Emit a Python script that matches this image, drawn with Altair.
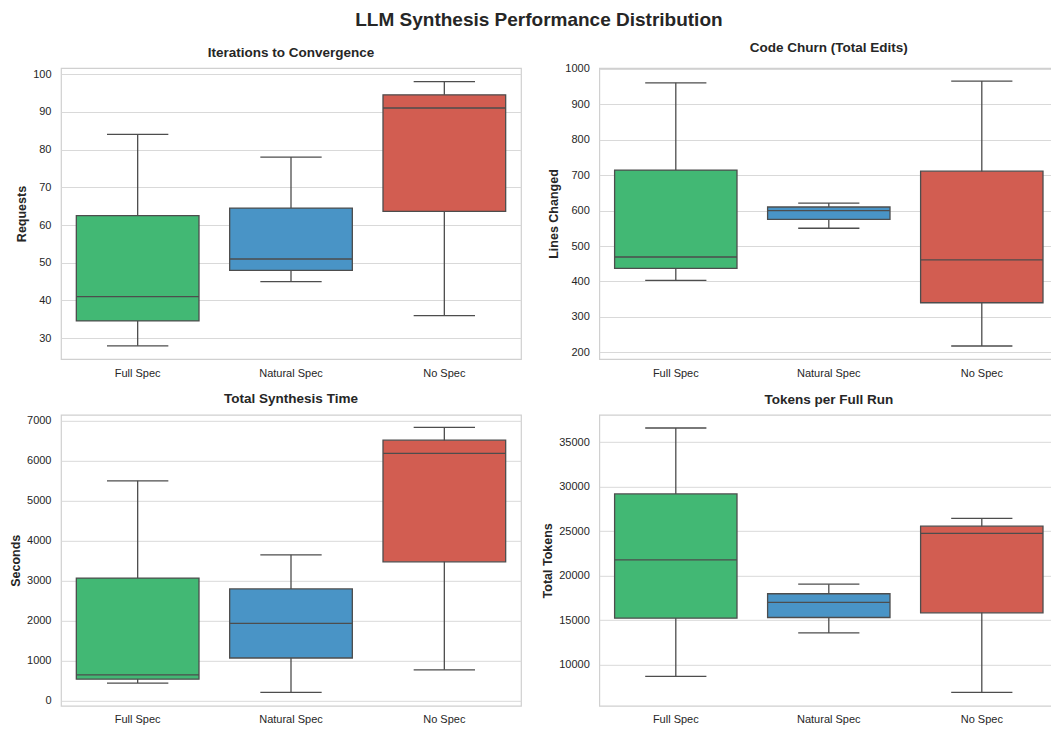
import altair as alt
import pandas as pd

methods = ["Full Spec", "Natural Spec", "No Spec"]
colors = ["#42b874", "#4994c6", "#d25d51"]

# Iterations to Convergence (Requests)
iter_lo = [28, 45, 36]
iter_q1 = [34.6, 48, 63.6]
iter_med = [41, 51, 91]
iter_q3 = [62.5, 64.5, 94.5]
iter_hi = [84, 78, 98]

# Code Churn (Lines Changed)
churn_lo = [403, 550, 218]
churn_q1 = [437, 575, 340]
churn_med = [469, 600, 461]
churn_q3 = [714, 610, 711]
churn_hi = [960, 621, 965]

# Total Synthesis Time (Seconds)
time_lo = [435, 204, 766]
time_q1 = [534, 1063, 3466]
time_med = [642, 1930, 6174]
time_q3 = [3061, 2789, 6505]
time_hi = [5489, 3640, 6827]

# Tokens per Full Run
tok_lo = [8667, 13556, 6889]
tok_q1 = [15222, 15296, 15815]
tok_med = [21778, 17000, 24741]
tok_q3 = [29185, 17963, 25556]
tok_hi = [36593, 19037, 26444]

FONT = "Liberation Sans"
LINE = "#4d4d4d"
TXT = "#262626"
H = 291


def panel(title, ytitle, lo, q1, med, q3, hi, domain, ticks, width):
    df = pd.DataFrame({"method": methods, "lo": lo, "q1": q1, "med": med,
                       "q3": q3, "hi": hi})
    step = width / 3.0
    x = alt.X("method:N", sort=methods,
              scale=alt.Scale(domain=methods, paddingInner=0.2, paddingOuter=0.1),
              axis=alt.Axis(title=None, labelAngle=0, grid=False, labelPadding=8))
    ys = alt.Scale(domain=domain, nice=False, zero=False)
    yax = alt.Axis(values=ticks, format="d", labelPadding=10, titlePadding=4)

    def Y(field):
        return alt.Y(field + ":Q", scale=ys, axis=yax, title=ytitle)

    base = alt.Chart(df)
    whisk = base.mark_rule(color=LINE, strokeWidth=1.3).encode(
        x=x, y=Y("lo"), y2="hi:Q")
    box = base.mark_bar(stroke=LINE, strokeWidth=1.3, opacity=1).encode(
        x=x, y=Y("q1"), y2="q3:Q",
        color=alt.Color("method:N", scale=alt.Scale(domain=methods, range=colors),
                        legend=None))
    med_t = base.mark_tick(color=LINE, thickness=1.3, size=step * 0.8, opacity=1).encode(
        x=x, y=Y("med"))
    cap_lo = base.mark_tick(color=LINE, thickness=1.3, size=step * 0.4, opacity=1).encode(
        x=x, y=Y("lo"))
    cap_hi = base.mark_tick(color=LINE, thickness=1.3, size=step * 0.4, opacity=1).encode(
        x=x, y=Y("hi"))
    return alt.layer(whisk, box, med_t, cap_lo, cap_hi).properties(
        width=width, height=H,
        title=alt.TitleParams(title, fontSize=13.5, font=FONT, fontWeight="bold",
                              color=TXT, offset=8.5))


tl = panel("Iterations to Convergence", "Requests", iter_lo, iter_q1, iter_med,
           iter_q3, iter_hi, [24.5, 101.6], list(range(30, 101, 10)), 460)
tr = panel("Code Churn (Total Edits)", "Lines Changed", churn_lo, churn_q1, churn_med,
           churn_q3, churn_hi, [181.4, 1001.9], list(range(200, 1001, 100)), 459)
bl = panel("Total Synthesis Time", "Seconds", time_lo, time_q1, time_med,
           time_q3, time_hi, [-132, 7140], list(range(0, 7001, 1000)), 460)
br = panel("Tokens per Full Run", "Total Tokens", tok_lo, tok_q1, tok_med,
           tok_q3, tok_hi, [5370, 38074], list(range(10000, 35001, 5000)), 459)

chart = alt.concat(tl, tr, bl, br, columns=2, spacing={"row": 12.8, "column": 18.3}).properties(
    title=alt.TitleParams("LLM Synthesis Performance Distribution", fontSize=19,
                          font=FONT, fontWeight="bold", color=TXT, anchor="middle",
                          offset=10, dx=5),
    padding={"left": 0, "top": 3, "right": -8, "bottom": -1},
).configure_axis(
    labelFont=FONT, labelFontSize=11, labelColor=TXT,
    titleFont=FONT, titleFontSize=12.5, titleFontWeight="bold", titleColor=TXT,
    domain=False, ticks=False, gridColor="#d9d9d9", gridWidth=1,
).configure_view(
    stroke="#d0d0d0", strokeWidth=1.2,
)

chart.save("out.html", embed_options={"renderer": "svg", "actions": False})
